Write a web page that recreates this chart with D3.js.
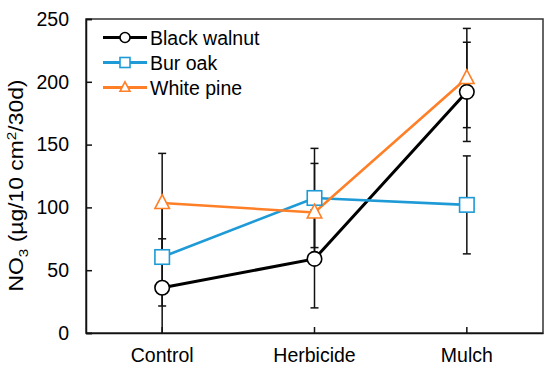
<!DOCTYPE html>
<html>
<head>
<meta charset="utf-8">
<script src="https://cdn.jsdelivr.net/npm/d3@7"></script>
<style>
  html, body { margin: 0; padding: 0; background: #fff; }
  svg { display: block; font-family: "Liberation Sans", Arial, sans-serif; }
</style>
</head>
<body>
<svg id="chart" width="550" height="371"></svg>
<script>
const categories = ["Control", "Herbicide", "Mulch"];
const seriesNames = ["Black walnut", "Bur oak", "White pine"];
const blackWalnut = [36, 59, 192];
const burOak = [60.5, 107.5, 102];
const whitePine = [103.5, 96, 203];
const blackWalnutErr = [39, 39, 39.5];
const burOakErr = [39, 39.5, 39];
const whitePineErr = [39.5, 39, 39.5];
const yTicks = [0, 50, 100, 150, 200, 250];

const colors = ["#000000", "#1E9AD6", "#FF7F27"];
const shapes = ["circle", "square", "triangle"];
const values = [blackWalnut, burOak, whitePine];
const errors = [blackWalnutErr, burOakErr, whitePineErr];

const FS = 19.5;
const svg = d3.select("#chart");
const L = 86, R = 543, T = 19, B = 333;

const x = d3.scaleBand().domain(categories).range([L, R]);
const xc = c => x(c) + x.bandwidth() / 2;
const y = d3.scaleLinear().domain([0, 250]).range([B, T]);

// frame
svg.append("rect").attr("x", L).attr("y", T).attr("width", R - L).attr("height", B - T)
  .attr("fill", "none").attr("stroke", "#333").attr("stroke-width", 1.5);

// y axis
const yAxis = svg.append("g").attr("transform", `translate(${L},0)`)
  .call(d3.axisLeft(y).tickValues(yTicks).tickSize(-6).tickPadding(17));
yAxis.select(".domain").attr("stroke", "#111").attr("stroke-width", 1.5);
yAxis.selectAll(".tick line").attr("stroke", "#111").attr("stroke-width", 1.5);
yAxis.selectAll("text").attr("font-size", FS).attr("fill", "#000")
  .attr("font-family", "'Liberation Sans', Arial, sans-serif");

// x axis
const xAxis = svg.append("g").attr("transform", `translate(0,${B})`)
  .call(d3.axisBottom(x).tickSize(-6).tickPadding(15.5).tickSizeOuter(0));
xAxis.select(".domain").attr("stroke", "#111").attr("stroke-width", 1.5);
xAxis.selectAll(".tick line").attr("stroke", "#111").attr("stroke-width", 1.5);
xAxis.selectAll("text").attr("font-size", FS).attr("fill", "#000")
  .attr("font-family", "'Liberation Sans', Arial, sans-serif");

// y axis title
const title = svg.append("text")
  .attr("transform", "translate(23,185.5) rotate(-90)")
  .attr("text-anchor", "middle").attr("font-size", 19.5).attr("fill", "#000")
  .attr("textLength", 212).attr("lengthAdjust", "spacingAndGlyphs");
title.append("tspan").text("NO");
title.append("tspan").text("3").attr("font-size", 13).attr("dy", 5);
title.append("tspan").text(" (µg/10 cm").attr("dy", -5);
title.append("tspan").text("2").attr("font-size", 13).attr("dy", -7);
title.append("tspan").text("/30d)").attr("dy", 7);

// error bars
const eb = svg.append("g").attr("stroke", "#111").attr("stroke-width", 1.5);
values.forEach((vals, s) => {
  vals.forEach((v, i) => {
    const cx = xc(categories[i]);
    const hi = v + errors[s][i], lo = Math.max(0, v - errors[s][i]);
    eb.append("line").attr("x1", cx).attr("x2", cx).attr("y1", y(hi)).attr("y2", y(lo));
    eb.append("line").attr("x1", cx - 4).attr("x2", cx + 4).attr("y1", y(hi)).attr("y2", y(hi));
    if (v - errors[s][i] > 0)
      eb.append("line").attr("x1", cx - 4).attr("x2", cx + 4).attr("y1", y(lo)).attr("y2", y(lo));
  });
});

function drawMarker(g, shape, cx, cy, size, color) {
  if (shape === "circle") {
    g.append("circle").attr("cx", cx).attr("cy", cy).attr("r", size / 2)
      .attr("fill", "#fff").attr("stroke", color).attr("stroke-width", 1.6);
  } else if (shape === "square") {
    g.append("rect").attr("x", cx - size / 2).attr("y", cy - size / 2)
      .attr("width", size).attr("height", size)
      .attr("fill", "#fff").attr("stroke", color).attr("stroke-width", 1.6);
  } else {
    const h = size * 0.95, w = size;
    g.append("path")
      .attr("d", `M${cx},${cy - h * 0.6} L${cx + w / 2},${cy + h * 0.4} L${cx - w / 2},${cy + h * 0.4} Z`)
      .attr("fill", "#fff").attr("stroke", color).attr("stroke-width", 1.6);
  }
}

// lines
const lineGen = d3.line().x((d, i) => xc(categories[i])).y(d => y(d));
const lineWidths = [3, 2.6, 2.6];
values.forEach((vals, s) => {
  svg.append("path").datum(vals).attr("d", lineGen)
    .attr("fill", "none").attr("stroke", colors[s]).attr("stroke-width", lineWidths[s]);
});

// markers
const mg = svg.append("g");
values.forEach((vals, s) => {
  vals.forEach((v, i) => drawMarker(mg, shapes[s], xc(categories[i]), y(v), 14.5, colors[s]));
});

// legend
const lg = svg.append("g");
seriesNames.forEach((name, s) => {
  const ly = 37.5 + s * 25;
  lg.append("line").attr("x1", 103).attr("x2", 147).attr("y1", ly).attr("y2", ly)
    .attr("stroke", colors[s]).attr("stroke-width", 3);
  drawMarker(lg, shapes[s], 125, ly, 10, colors[s]);
  lg.append("text").attr("x", 150).attr("y", ly).attr("dy", "0.36em")
    .attr("font-size", FS).attr("fill", "#000").text(name);
});
</script>
</body>
</html>
